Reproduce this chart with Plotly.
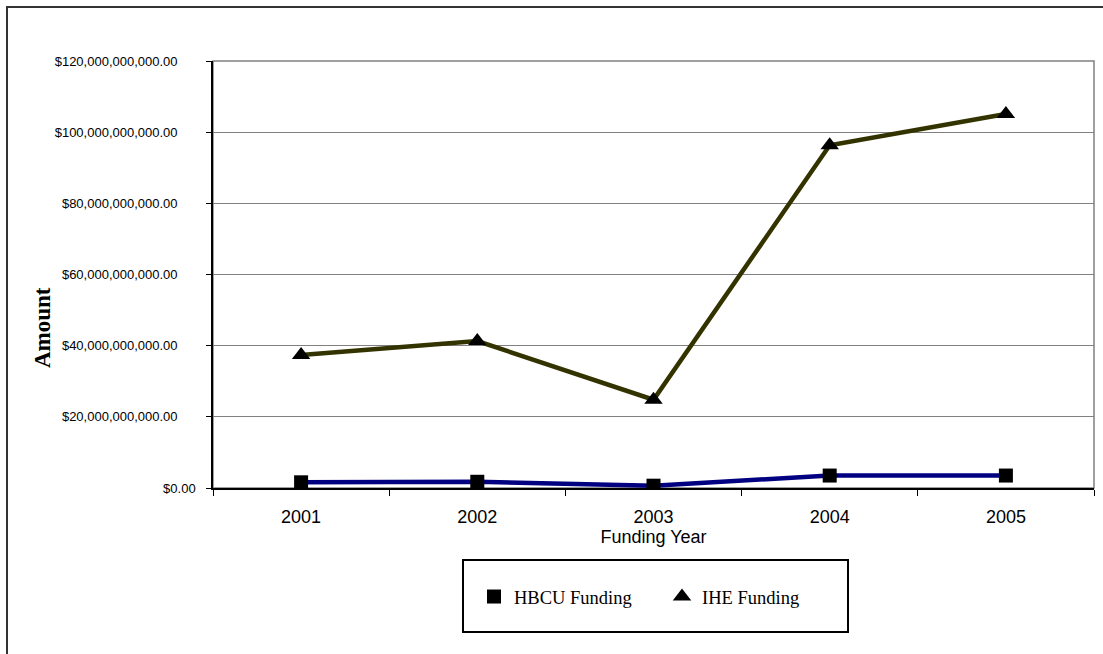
import plotly.graph_objects as go

# Funding totals by fiscal year (US dollars)
years = ["2001", "2002", "2003", "2004", "2005"]
hbcu_funding = [1.6e9, 1.75e9, 0.65e9, 3.5e9, 3.5e9]
ihe_funding = [37.4e9, 41.3e9, 24.8e9, 96.3e9, 105.1e9]

y_tick_values = [0, 20e9, 40e9, 60e9, 80e9, 100e9, 120e9]
y_tick_labels = ["$0.00", "$20,000,000,000.00", "$40,000,000,000.00",
                 "$60,000,000,000.00", "$80,000,000,000.00",
                 "$100,000,000,000.00", "$120,000,000,000.00"]

W, H = 1103, 654
L, R, T, B = 213, 9, 61, 166
plot_w = W - L - R
plot_h = H - T - B

PAD = "\u00a0" * 5
tick_text = [t if v == 0 else t + PAD for v, t in zip(y_tick_values, y_tick_labels)]

HBCU_COLOR = "#000080"
IHE_COLOR = "#333300"

fig = go.Figure()

fig.add_trace(go.Scatter(
    x=years, y=hbcu_funding, mode="lines+markers", name="HBCU Funding",
    line=dict(color=HBCU_COLOR, width=4.5),
    marker=dict(symbol="square", size=14, color="black"),
    showlegend=False,
))
fig.add_trace(go.Scatter(
    x=years, y=ihe_funding, mode="lines+markers", name="IHE Funding",
    line=dict(color=IHE_COLOR, width=4.5),
    marker=dict(symbol="triangle-up", size=16, color="black"),
    showlegend=False,
))

# marker-only legend entries
fig.add_trace(go.Scatter(
    x=[None], y=[None], mode="markers", name="HBCU Funding",
    marker=dict(symbol="square", size=14, color="black"),
))
fig.add_trace(go.Scatter(
    x=[None], y=[None], mode="markers", name="IHE Funding",
    marker=dict(symbol="triangle-up", size=16, color="black"),
))

def px_x(p):
    return (p - L) / plot_w

def px_y(p):
    return (H - B - p) / plot_h

shapes = [
    # gray frame around the plot area
    dict(type="rect", xref="paper", yref="paper", x0=0, x1=1, y0=0, y1=1,
         line=dict(color="#808080", width=1.5), layer="below"),
    # outer chart border
    dict(type="rect", xref="paper", yref="paper",
         x0=px_x(7), x1=px_x(W + 20), y0=px_y(H + 20), y1=px_y(7),
         line=dict(color="#333333", width=2)),
    # legend box
    dict(type="rect", xref="paper", yref="paper",
         x0=px_x(463), x1=px_x(848), y0=px_y(632), y1=px_y(560),
         line=dict(color="black", width=2)),
]

annotations = [
    dict(text="<b>Amount</b>", xref="paper", yref="paper",
         x=px_x(42), y=px_y(328), xanchor="center", yanchor="middle",
         textangle=-90, showarrow=False,
         font=dict(size=23, family="Liberation Serif, Times New Roman, serif", color="black")),
]

fig.update_layout(
    width=W, height=H,
    margin=dict(l=L, r=R, t=T, b=B, autoexpand=False),
    paper_bgcolor="white", plot_bgcolor="white",
    font=dict(family="Liberation Sans, Arial, sans-serif", color="black"),
    shapes=shapes,
    annotations=annotations,
    legend=dict(
        orientation="h", xref="paper", yref="paper",
        x=px_x(474), y=px_y(578), xanchor="left", yanchor="top",
        font=dict(family="Liberation Serif, Times New Roman, serif", size=18.5, color="black"),
        bgcolor="rgba(0,0,0,0)", borderwidth=0,
        entrywidth=143, entrywidthmode="pixels",
        itemclick=False, itemdoubleclick=False,
    ),
    xaxis=dict(
        type="category", tickson="boundaries",
        ticks="outside", ticklen=6, tickcolor="black", tickwidth=1,
        showline=True, linecolor="black", linewidth=1.5,
        showgrid=False, zeroline=False,
        tickfont=dict(size=18, family="Liberation Sans, Arial, sans-serif"),
        ticklabelstandoff=12,
        title=dict(text="Funding Year", standoff=4,
                   font=dict(size=18, family="Liberation Sans, Arial, sans-serif")),
        range=[-0.5, 4.5], fixedrange=True,
    ),
    yaxis=dict(
        range=[0, 120e9],
        tickvals=y_tick_values, ticktext=tick_text,
        ticks="outside", ticklen=5, tickcolor="black", tickwidth=1,
        showline=True, linecolor="black", linewidth=1.5,
        showgrid=True, gridcolor="#808080", gridwidth=1,
        zeroline=False,
        tickfont=dict(size=13, family="Liberation Sans, Arial, sans-serif"),
        ticklabelstandoff=8,
        fixedrange=True,
    ),
)

fig.write_html("out.html")
